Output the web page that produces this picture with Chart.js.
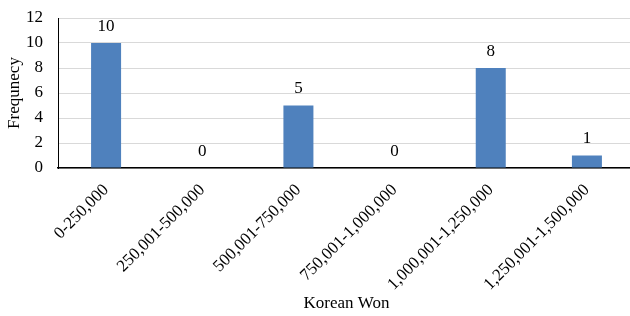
<!DOCTYPE html>
<html>
<head>
<meta charset="utf-8">
<script src="https://cdn.jsdelivr.net/npm/chart.js@4.4.0/dist/chart.umd.min.js"></script>
<style>
  html, body { margin: 0; padding: 0; background: #fff; overflow: hidden; }
  #wrap { width: 640px; height: 316px; }
</style>
</head>
<body>
<div id="wrap"><canvas id="myChart"></canvas></div>
<script>
const ctx = document.getElementById('myChart');

const categories = [
    '0-250,000', '250,001-500,000', '500,001-750,000',
    '750,001-1,000,000', '1,000,001-1,250,000', '1,250,001-1,500,000'
];
const frequency = [10, 0, 5, 0, 8, 1];
const yTicks = [0, 2, 4, 6, 8, 10, 12];

// valeurs au-dessus des barres
const valueLabels = {
    id: 'valueLabels',
    afterDatasetsDraw(chart) {
        const c = chart.ctx;
        const meta = chart.getDatasetMeta(0);
        c.save();
        c.font = '17px "Liberation Serif"';
        c.fillStyle = '#000';
        c.textAlign = 'center';
        c.textBaseline = 'bottom';
        meta.data.forEach((bar, i) => {
            c.fillText(frequency[i], bar.x, bar.y - 8);
        });
        c.restore();
    }
};

new Chart(ctx, {
    type: 'bar',
    data: {
        labels: categories,
        datasets: [{
            label: 'Frequnecy',
            data: frequency,
            backgroundColor: '#4F81BD',
            barPercentage: 0.312,
            categoryPercentage: 1
        }]
    },
    options: {
        responsive: true,
        maintainAspectRatio: false,
        animation: false,
        layout: { padding: { top: 18, right: 5, left: 4, bottom: 2 } },
        plugins: {
            legend: { display: false },
            tooltip: { enabled: false }
        },
        scales: {
            x: {
                afterFit(scale) { scale.height = 146; },
                grid: { display: false, drawTicks: false },
                border: { color: '#000', width: 1.5 },
                ticks: {
                    color: '#000',
                    font: { family: 'Liberation Serif', size: 17 },
                    maxRotation: 45,
                    minRotation: 45,
                    padding: 12
                },
                title: {
                    display: true,
                    text: 'Korean Won',
                    color: '#000',
                    font: { family: 'Liberation Serif', size: 17 },
                    padding: { top: 0, bottom: 0 }
                }
            },
            y: {
                min: 0,
                max: 12,
                afterFit(scale) {
                    scale.width = 54;
                    scale.paddingTop = 0;
                    scale.paddingBottom = 0;
                },
                afterBuildTicks(scale) { scale.ticks = yTicks.map(v => ({ value: v })); },
                grid: { color: '#d9d9d9', drawTicks: false },
                border: { color: '#000', width: 1 },
                ticks: {
                    color: '#000',
                    font: { family: 'Liberation Serif', size: 17 },
                    padding: 15
                },
                title: {
                    display: true,
                    text: 'Frequnecy',
                    color: '#000',
                    font: { family: 'Liberation Serif', size: 17 },
                    padding: { top: 0, bottom: 0 }
                }
            }
        }
    },
    plugins: [valueLabels]
});
</script>
</body>
</html>
